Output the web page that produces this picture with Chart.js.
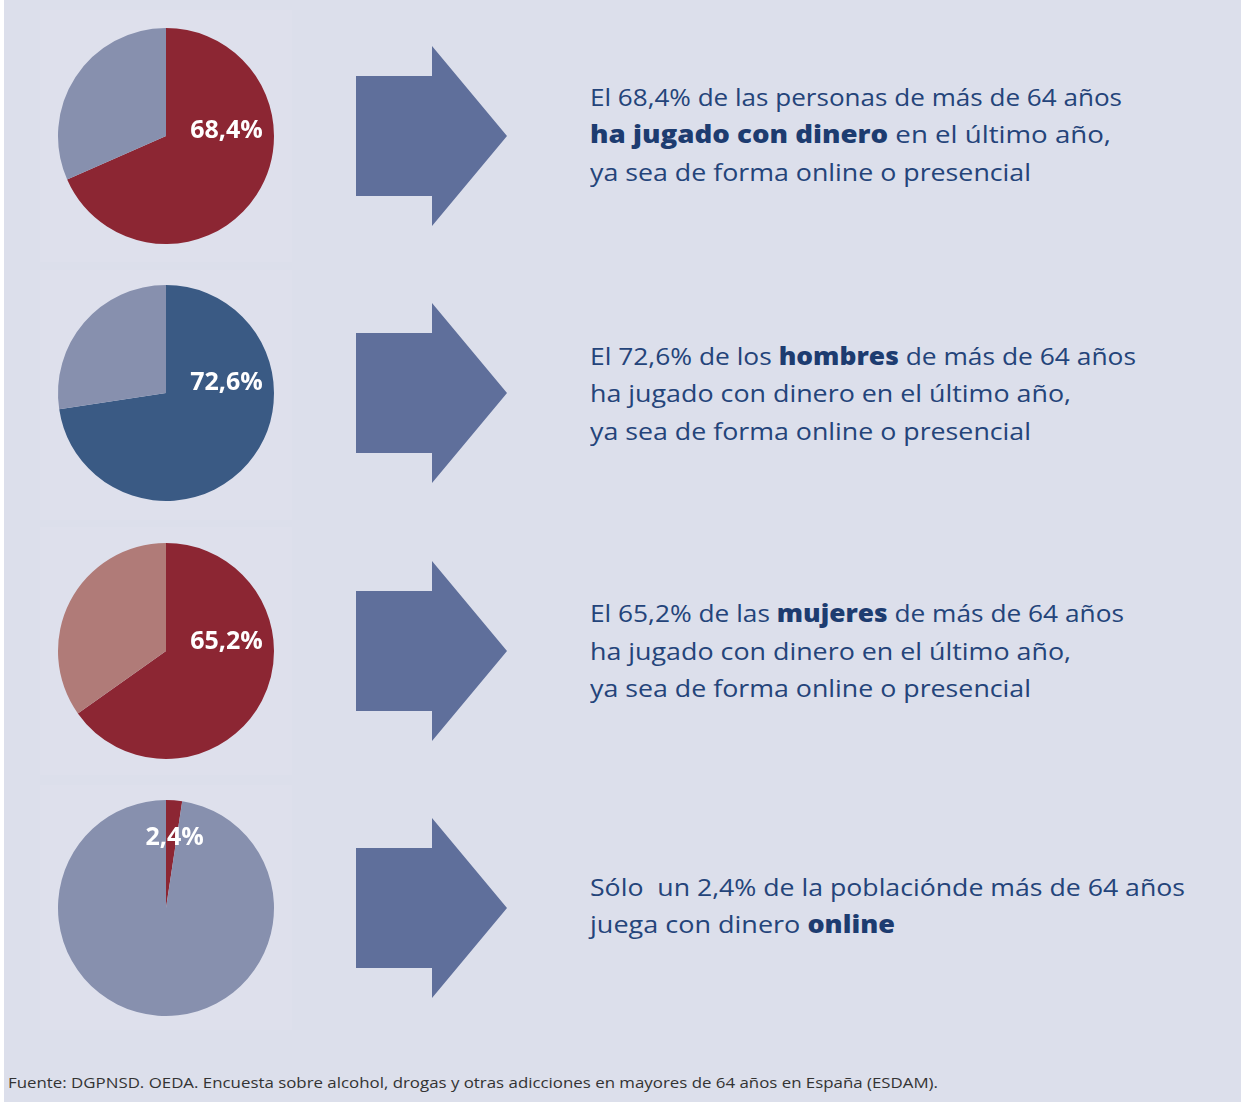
<!DOCTYPE html>
<html><head><meta charset="utf-8">
<script src="https://cdn.jsdelivr.net/npm/chart.js@4/dist/chart.umd.min.js"></script>
<style>
html,body{margin:0;padding:0;}
body{width:1241px;height:1102px;background:#dcdfeb;position:relative;overflow:hidden;font-family:"Open Sans",sans-serif;}
#strip{position:absolute;left:0;top:0;width:4px;height:1102px;background:#fff;}
.panel{position:absolute;left:40px;width:252px;background:#dee0ec;}
.pie{position:absolute;left:50px;width:232px;height:232px;}
.line{position:absolute;left:590px;white-space:nowrap;color:#24447a;font-size:24px;line-height:30px;transform-origin:0 50%;}
.line b{font-weight:800;color:#1d3c70;}
#src{position:absolute;left:8px;top:1073px;font-size:14.5px;color:#333;white-space:nowrap;transform-origin:0 50%;}
svg{position:absolute;left:0;top:0;}
</style></head>
<body>
<div id="strip"></div>
<div class="panel" style="top:10px;height:252px"></div>
<div class="panel" style="top:270px;height:250px"></div>
<div class="panel" style="top:527px;height:248px"></div>
<div class="panel" style="top:785px;height:245px"></div>
<svg id="arrows" width="1241" height="1102"></svg>
<div id="texts"></div>
<div id="src"></div>
<script>
// ---- data ----
const categories = ['Total', 'Hombres', 'Mujeres', 'Online'];
const values = [68.4, 72.6, 65.2, 2.4];
const valueLabels = ['68,4%', '72,6%', '65,2%', '2,4%'];
const mainColors = ['#8c2633', '#3a5a84', '#8c2633', '#8c2633'];
const restColors = ['#8790ae', '#8790ae', '#b07b78', '#8790ae'];
const descriptions = [
  ['El 68,4% de las personas de más de 64 años', '<b>ha jugado con dinero</b> en el último año,', 'ya sea de forma online o presencial'],
  ['El 72,6% de los <b>hombres</b> de más de 64 años', 'ha jugado con dinero en el último año,', 'ya sea de forma online o presencial'],
  ['El 65,2% de las <b>mujeres</b> de más de 64 años', 'ha jugado con dinero en el último año,', 'ya sea de forma online o presencial'],
  ['Sólo&nbsp; un 2,4% de la poblaciónde más de 64 años', 'juega con dinero <b>online</b>']
];
const source = 'Fuente: DGPNSD. OEDA. Encuesta sobre alcohol, drogas y otras adicciones en mayores de 64 años en España (ESDAM).';

// ---- layout ----
const rowCenters = [136, 393, 651, 908];
const labelOffsets = [[0.56, -0.05], [0.56, -0.09], [0.56, -0.08], [0.08, -0.65]];
const lineWidths = [[532, 521, 441], [546, 481, 441], [534, 481, 441], [595, 305]];
const lineYs = [[97, 134, 172], [356, 393, 431], [613, 651, 688], [887, 924]];

const labelPlugin = {
  id: 'centerLabel',
  afterDatasetsDraw(chart, args, opts) {
    const arc = chart.getDatasetMeta(0).data[0];
    const ctx = chart.ctx;
    ctx.save();
    ctx.fillStyle = '#ffffff';
    ctx.font = 'bold 25px "Open Sans", sans-serif';
    ctx.textAlign = 'center';
    ctx.textBaseline = 'middle';
    ctx.fillText(opts.text, arc.x + opts.dx * arc.outerRadius, arc.y + opts.dy * arc.outerRadius);
    ctx.restore();
  }
};

categories.forEach((cat, i) => {
  const c = document.createElement('canvas');
  const wrap = document.createElement('div');
  wrap.className = 'pie';
  wrap.style.top = (rowCenters[i] - 116) + 'px';
  wrap.appendChild(c);
  document.body.appendChild(wrap);
  new Chart(c, {
    type: 'pie',
    data: {
      labels: [cat, 'Resto'],
      datasets: [{
        data: [values[i], +(100 - values[i]).toFixed(1)],
        backgroundColor: [mainColors[i], restColors[i]],
        borderWidth: 0
      }]
    },
    options: {
      responsive: true, maintainAspectRatio: false, animation: false,
      layout: { padding: 8 },
      plugins: {
        legend: { display: false }, tooltip: { enabled: false },
        centerLabel: { text: valueLabels[i], dx: labelOffsets[i][0], dy: labelOffsets[i][1] }
      }
    },
    plugins: [labelPlugin]
  });

  // arrow
  const cy = rowCenters[i];
  const poly = document.createElementNS('http://www.w3.org/2000/svg', 'polygon');
  poly.setAttribute('points', [
    [356, cy - 60], [432, cy - 60], [432, cy - 90], [507, cy], [432, cy + 90], [432, cy + 60], [356, cy + 60]
  ].map(p => p.join(',')).join(' '));
  poly.setAttribute('fill', '#5f6f9b');
  document.getElementById('arrows').appendChild(poly);

  // texts
  descriptions[i].forEach((html, j) => {
    const d = document.createElement('div');
    d.className = 'line';
    d.innerHTML = html;
    d.style.top = (lineYs[i][j] - 15) + 'px';
    document.getElementById('texts').appendChild(d);
    const w = d.getBoundingClientRect().width;
    d.style.transform = 'scaleX(' + (lineWidths[i][j] / w) + ')';
  });
});
const src = document.getElementById('src');
src.textContent = source;
src.style.transform = 'scaleX(' + (930 / src.getBoundingClientRect().width) + ')';
</script>
</body></html>
